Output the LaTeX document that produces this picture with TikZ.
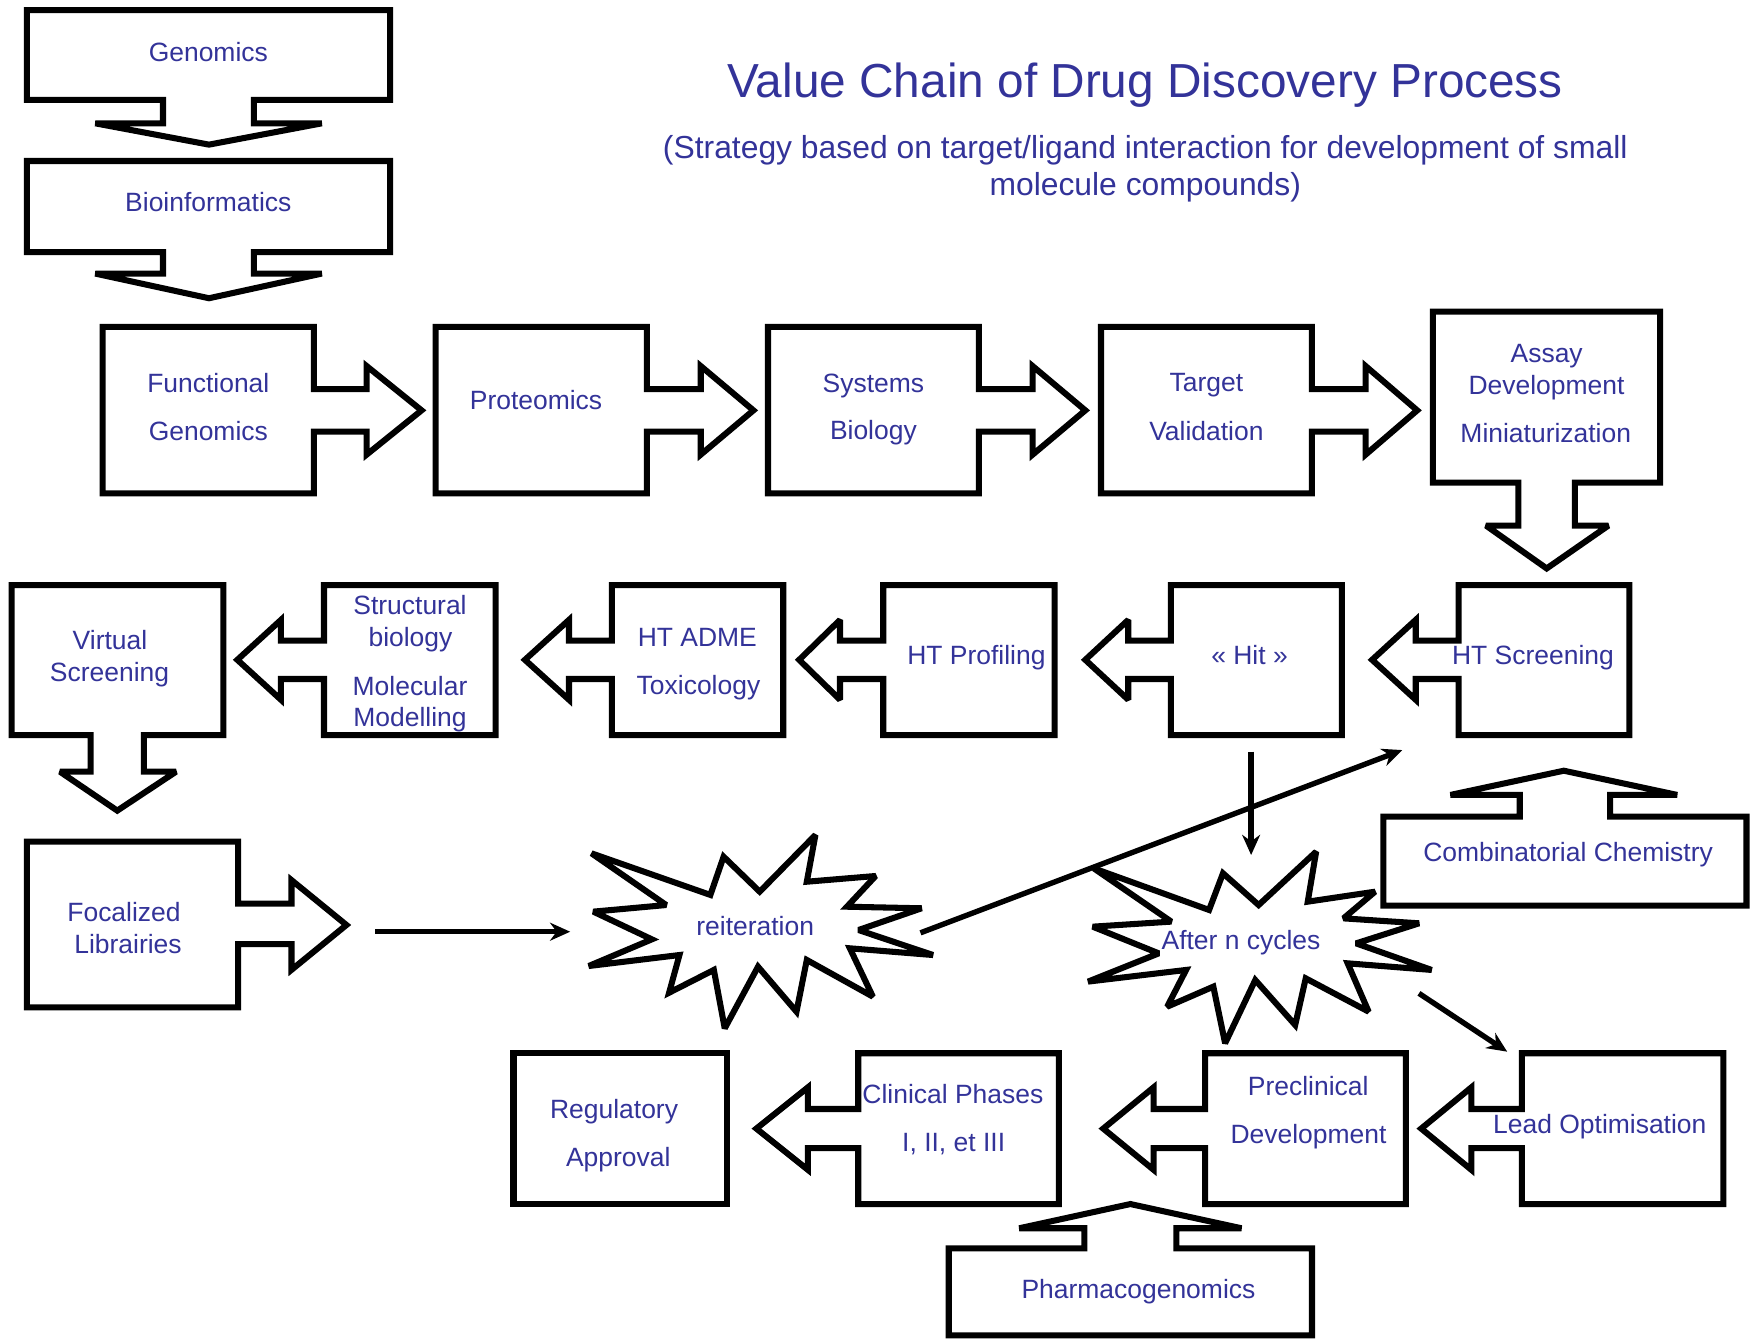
\documentclass[tikz,border=0pt]{standalone}
\usepackage{fontspec}
\setmainfont{Liberation Sans}
\usepackage{tikz}
\usetikzlibrary{arrows.meta}
\definecolor{chainblue}{RGB}{51,51,153}

\begin{document}
\begin{tikzpicture}[x=0.5pt, y=-0.5pt,
    box/.style={draw=black, line width=2.7pt, fill=white, line join=miter, miter limit=2.5},
    lbl/.style={text=chainblue, font=\fontsize{11.8}{14}\selectfont, anchor=base, inner sep=0pt},
    link/.style={line width=2.4pt, -{Stealth[length=9pt, width=8pt]}}]
  \useasboundingbox (0,0) rectangle (1568,1195);

  % title
  \node[lbl, font=\fontsize{21.3}{25}\selectfont] (title) at (1021.5,87) {Value Chain of Drug Discovery Process};
  \node[lbl, font=\fontsize{14.2}{17}\selectfont] (sub1) at (1021.5,141) {(Strategy based on target/ligand interaction for development of small};
  \node[lbl, font=\fontsize{14.2}{17}\selectfont] (sub2) at (1021.5,174) {molecule compounds)};

  % top column
  \draw[box] (24,9) -- (348,9) -- (348,89) -- (226.5,89) -- (226.5,110) -- (287,110) -- (186.4,129)
    -- (85,110) -- (145.4,110) -- (145.4,89) -- (24,89) -- cycle;
  \draw[box] (24,143.6) -- (348,143.6) -- (348,224.8) -- (226.5,224.8) -- (226.5,244) -- (287,244) -- (186.4,266)
    -- (85,244) -- (145.4,244) -- (145.4,224.8) -- (24,224.8) -- cycle;

  % first row
  \draw[box] (91.5,291.5) -- (280,291.5) -- (280,347) -- (327,347) -- (327,326.5) -- (376,366)
    -- (327,405.5) -- (327,385) -- (280,385) -- (280,440) -- (91.5,440) -- cycle;
  \draw[box] (388.5,291.5) -- (577,291.5) -- (577,347) -- (625,347) -- (625,326.5) -- (672,366)
    -- (625,405.5) -- (625,385) -- (577,385) -- (577,440) -- (388.5,440) -- cycle;
  \draw[box] (685,291.5) -- (873,291.5) -- (873,347) -- (921,347) -- (921,326.5) -- (968,366)
    -- (921,405.5) -- (921,385) -- (873,385) -- (873,440) -- (685,440) -- cycle;
  \draw[box] (982,291.5) -- (1170,291.5) -- (1170,347) -- (1218,347) -- (1218,326.5) -- (1264,366)
    -- (1218,405.5) -- (1218,385) -- (1170,385) -- (1170,440) -- (982,440) -- cycle;
  \draw[box] (1278,278) -- (1480.6,278) -- (1480.6,430.5) -- (1404.7,430.5) -- (1404.7,468.8) -- (1434.5,468.8)
    -- (1379.5,507) -- (1325.4,468.8) -- (1354.2,468.8) -- (1354.2,430.5) -- (1278,430.5) -- cycle;

  % second row
  \draw[box] (10.4,521.8) -- (199.2,521.8) -- (199.2,655.6) -- (128.4,655.6) -- (128.4,688.3) -- (157,688.3)
    -- (104.6,723) -- (53.5,688.3) -- (80.9,688.3) -- (80.9,655.6) -- (10.4,655.6) -- cycle;
  \draw[box] (289,521.8) -- (442.1,521.8) -- (442.1,655.6) -- (289,655.6) -- (289,605.6) -- (250.6,605.6)
    -- (250.6,624.1) -- (211.7,588.5) -- (250.6,552.9) -- (250.6,571.4) -- (289,571.4) -- cycle;
  \draw[box] (545.7,521.8) -- (698.6,521.8) -- (698.6,655.6) -- (545.7,655.6) -- (545.7,605.6) -- (507.5,605.6)
    -- (507.5,624.1) -- (468.2,588.5) -- (507.5,552.9) -- (507.5,571.4) -- (545.7,571.4) -- cycle;
  \draw[box] (787.8,521.8) -- (940.7,521.8) -- (940.7,655.6) -- (787.8,655.6) -- (787.8,605.6) -- (749.2,605.6)
    -- (749.2,624.1) -- (712.8,588.5) -- (749.2,552.9) -- (749.2,571.4) -- (787.8,571.4) -- cycle;
  \draw[box] (1044.4,521.8) -- (1196.8,521.8) -- (1196.8,655.6) -- (1044.4,655.6) -- (1044.4,605.6) -- (1006.3,605.6)
    -- (1006.3,624.1) -- (968,588.5) -- (1006.3,552.9) -- (1006.3,571.4) -- (1044.4,571.4) -- cycle;
  \draw[box] (1300.9,521.8) -- (1453.2,521.8) -- (1453.2,655.6) -- (1300.9,655.6) -- (1300.9,605.6) -- (1262.7,605.6)
    -- (1262.7,624.1) -- (1223.8,588.5) -- (1262.7,552.9) -- (1262.7,571.4) -- (1300.9,571.4) -- cycle;

  % third row
  \draw[box] (23.9,750.7) -- (212.3,750.7) -- (212.3,806) -- (260,806) -- (260,785) -- (309,825)
    -- (260,865) -- (260,842) -- (212.3,842) -- (212.3,898.4) -- (23.9,898.4) -- cycle;
  \draw[box] (1233.9,807.8) -- (1233.9,728.4) -- (1355.5,728.4) -- (1355.5,709) -- (1293.7,709) -- (1394.8,687.4)
    -- (1495.9,709) -- (1436,709) -- (1436,728.4) -- (1557.7,728.4) -- (1557.7,807.8) -- cycle;

  % stars
  \draw[box] (727.3,744.7) -- (719.6,786.4) -- (781,781.3) -- (755.4,808.7) -- (822,810.1) -- (765.7,829.5)
    -- (832.2,851.8) -- (758,845.8) -- (778.5,888.9) -- (719.6,856.2) -- (710.4,902.3) -- (676.1,862.2)
    -- (646.4,917.2) -- (636.7,865.1) -- (596.8,885.4) -- (606,851.8) -- (525.1,861.6) -- (581.4,837.8)
    -- (529.2,813.1) -- (594.2,807.2) -- (527.6,761.1) -- (633.6,798.2) -- (645.4,764.1) -- (677.6,795.3) -- cycle;
  \draw[box] (1173.9,759.6) -- (1166.4,804.2) -- (1226.4,795.3) -- (1198.3,819.1) -- (1265.7,823.5) -- (1209.5,841.4)
    -- (1276.9,865.1) -- (1202,859.2) -- (1220.7,902.3) -- (1164.6,872.6) -- (1155.2,914.2) -- (1119.6,874.1)
    -- (1092.7,930.5) -- (1082.2,880) -- (1041,897.9) -- (1057.9,865.1) -- (970.5,875.5) -- (1033.5,850.3)
    -- (974.6,826.5) -- (1044.7,822) -- (975.6,774.5) -- (1078.4,811.6) -- (1090.8,778.9) -- (1122.6,807.2) -- cycle;

  % fourth row
  \draw[box] (458,939.4) rectangle (648,1074);
  \draw[box] (765.5,939.4) -- (944.4,939.4) -- (944.4,1074) -- (765.5,1074) -- (765.5,1024.1) -- (720.6,1024.1)
    -- (720.6,1043.4) -- (674.6,1006.6) -- (720.6,969.8) -- (720.6,989.1) -- (765.5,989.1) -- cycle;
  \draw[box] (1074.8,939.4) -- (1254,939.4) -- (1254,1074) -- (1074.8,1074) -- (1074.8,1024.1) -- (1029,1024.1)
    -- (1029,1043.4) -- (984,1006.6) -- (1029,969.8) -- (1029,989.1) -- (1074.8,989.1) -- cycle;
  \draw[box] (1357.4,939.4) -- (1537.1,939.4) -- (1537.1,1074) -- (1357.4,1074) -- (1357.4,1024.1) -- (1312.4,1024.1)
    -- (1312.4,1043.4) -- (1267.6,1006.6) -- (1312.4,969.8) -- (1312.4,989.1) -- (1357.4,989.1) -- cycle;
  \draw[box] (846.2,1191) -- (846.2,1113.4) -- (967.1,1113.4) -- (967.1,1095.5) -- (909.1,1095.5) -- (1008.2,1073.9)
    -- (1107.3,1095.5) -- (1049.3,1095.5) -- (1049.3,1113.4) -- (1170.2,1113.4) -- (1170.2,1191) -- cycle;

  % labels
  \node[lbl] (gen) at (185.8,55) {Genomics};
  \node[lbl] (bio) at (185.8,188.8) {Bioinformatics};
  \node[lbl] (func1) at (185.8,350.2) {Functional};
  \node[lbl] (func2) at (185.8,393) {Genomics};
  \node[lbl] (prot) at (478.1,365.1) {Proteomics};
  \node[lbl] (sys1) at (779,349.9) {Systems};
  \node[lbl] (sys2) at (779,392.4) {Biology};
  \node[lbl] (targ1) at (1076,349.3) {Target};
  \node[lbl] (targ2) at (1076,393) {Validation};
  \node[lbl] (assay1) at (1379.5,323.5) {Assay};
  \node[lbl] (assay2) at (1379.3,351.7) {Development};
  \node[lbl] (assay3) at (1378.7,394.8) {Miniaturization};
  \node[lbl] (virt1) at (98.1,579.7) {Virtual};
  \node[lbl] (virt2) at (97.7,608) {Screening};
  \node[lbl] (struc1) at (365.7,548.5) {Structural};
  \node[lbl] (struc2) at (366.1,576.2) {biology};
  \node[lbl] (struc3) at (365.7,619.9) {Molecular};
  \node[lbl] (struc4) at (365.7,648.1) {Modelling};
  \node[lbl] (adme1) at (622,577) {HT ADME};
  \node[lbl] (adme2) at (623,619.5) {Toxicology};
  \node[lbl] (prof) at (870.9,593.1) {HT Profiling};
  \node[lbl] (hit) at (1114.5,593.1) {« Hit »};
  \node[lbl] (htscr) at (1367.3,593.1) {HT Screening};
  \node[lbl] (focal1) at (110.6,822) {Focalized};
  \node[lbl] (focal2) at (114.2,850.3) {Librairies};
  \node[lbl] (reit) at (673.6,834.8) {reiteration};
  \node[lbl] (cycles) at (1106.9,847.3) {After n cycles};
  \node[lbl] (combi) at (1398.6,768.5) {Combinatorial Chemistry};
  \node[lbl] (regul1) at (547.7,997.5) {Regulatory};
  \node[lbl] (regul2) at (551.4,1040) {Approval};
  \node[lbl] (clin1) at (849.9,984.1) {Clinical Phases};
  \node[lbl] (clin2) at (850.6,1027.2) {I, II, et III};
  \node[lbl] (precl1) at (1166.8,977.5) {Preclinical};
  \node[lbl] (precl2) at (1167.1,1019.7) {Development};
  \node[lbl] (lead) at (1426.9,1010.8) {Lead Optimisation};
  \node[lbl] (pharma) at (1015.4,1158) {Pharmacogenomics};

  % connectors
  \coordinate (focalout) at (334.5,831);
  \coordinate (reitin) at (508.6,831);
  \coordinate (reitout) at (821,832);
  \coordinate (screenin) at (1250.7,669);
  \coordinate (hitout) at (1115.9,670.4);
  \coordinate (cyclesin) at (1115.9,762.6);
  \coordinate (cyclesout) at (1265.6,886);
  \coordinate (leadin) at (1344.3,938);
  \draw[link] (focalout) -- (reitin);
  \draw[link] (reitout) -- (screenin);
  \draw[link] (hitout) -- (cyclesin);
  \draw[link] (cyclesout) -- (leadin);
\end{tikzpicture}
\end{document}
